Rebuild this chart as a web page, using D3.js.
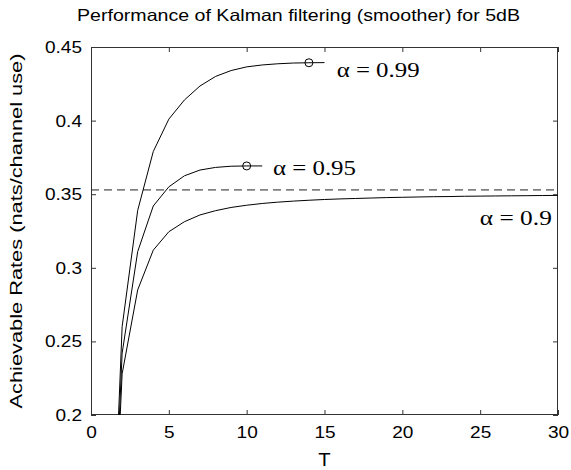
<!DOCTYPE html>
<html><head><meta charset="utf-8">
<script src="https://cdn.jsdelivr.net/npm/d3@7"></script>
<style>body{margin:0;background:#fff}</style>
</head><body>
<svg id="c" width="571" height="470"></svg>
<script>
const T99 = [1,2,3,4,5,6,7,8,9,10,11,12,13,14,15];
const R99 = [0,0.26,0.339,0.379,0.401,0.414,0.4235,0.430,0.434,0.4365,0.4378,0.4386,0.4391,0.4393,0.4394];
const T95 = [1,2,3,4,5,6,7,8,9,10,11];
const R95 = [0,0.242,0.311,0.342,0.355,0.3625,0.3664,0.3682,0.369,0.3692,0.3692];
const T90 = [1,2,3,4,5,6,7,8,9,10,11,12,13,14,15,16,17,18,19,20,21,22,23,24,25,26,27,28,29,30];
const R90 = [0,0.228,0.285,0.312,0.3245,0.3313,0.3359,0.3388,0.341,0.3425,0.3437,0.3446,0.3453,0.3459,0.3464,0.3468,0.3471,0.3474,0.3477,0.3479,0.3481,0.3483,0.3484,0.3486,0.3487,0.3488,0.3489,0.349,0.3491,0.3492];
const optT = [14, 10];
const optR = [0.4393, 0.3692];
const bound = 0.3529;
const xTicks = [0,5,10,15,20,25,30];
const yTicks = [0.2,0.25,0.3,0.35,0.4,0.45];
const labels = ["α = 0.99","α = 0.95","α = 0.9"];
const labelT = [15.78, 11.69, 24.98];
const labelR = [0.4294, 0.363, 0.3291];

const PL=91, PR=558, PT=47, PB=415;
const x = d3.scaleLinear().domain([0,30]).range([PL,PR]);
const y = d3.scaleLinear().domain([0.2,0.45]).range([PB,PT]);
const svg = d3.select("#c");
const WIDEN = 1.12;

svg.append("defs").append("clipPath").attr("id","clip")
  .append("rect").attr("x",PL).attr("y",PT).attr("width",PR-PL).attr("height",PB-PT);

const axFont = "Liberation Sans, Arial, sans-serif";
const ax = svg.append("g");
ax.append("rect").attr("x",PL+0.5).attr("y",PT+0.5).attr("width",PR-PL-1).attr("height",PB-PT-1)
  .attr("fill","none").attr("stroke","#333").attr("stroke-width",1);

const axB = d3.axisBottom(x).tickValues(xTicks).tickSizeInner(-5).tickSizeOuter(0).tickPadding(11).tickFormat(d3.format("d"));
const axL = d3.axisLeft(y).tickValues(yTicks).tickSizeInner(-5).tickSizeOuter(0).tickPadding(9).tickFormat(d=>String(+d.toFixed(2)));
const axT = d3.axisTop(x).tickValues(xTicks).tickSizeInner(-5).tickSizeOuter(0).tickFormat("");
const axR = d3.axisRight(y).tickValues(yTicks).tickSizeInner(-5).tickSizeOuter(0).tickFormat("");

function widen(sel, f){
  sel.each(function(){
    const len = this.getComputedTextLength();
    if (len > 0) d3.select(this).attr("textLength", len*f).attr("lengthAdjust","spacingAndGlyphs");
  });
}
function style(g){
  g.select(".domain").remove();
  g.selectAll(".tick line").attr("stroke","#333");
  const t = g.selectAll(".tick text").attr("fill","#000").style("font-family",axFont).style("font-size","17px");
  widen(t, WIDEN);
}
ax.append("g").attr("transform",`translate(0,${PB})`).call(axB).call(style);
ax.append("g").attr("transform",`translate(${PL},0)`).call(axL).call(style);
ax.append("g").attr("transform",`translate(0,${PT})`).call(axT).call(style);
ax.append("g").attr("transform",`translate(${PR},0)`).call(axR).call(style);

const plot = svg.append("g").attr("clip-path","url(#clip)");
plot.append("line").attr("x1",PL).attr("x2",PR-3).attr("y1",y(bound)).attr("y2",y(bound))
  .attr("stroke","#222").attr("stroke-width",1).attr("stroke-dasharray","8,5");

const line = d3.line().x(d=>x(d[0])).y(d=>y(d[1]));
[[T99,R99],[T95,R95],[T90,R90]].forEach(([ts,rs])=>{
  plot.append("path").datum(ts.map((t,i)=>[t,rs[i]])).attr("d",line)
    .attr("fill","none").attr("stroke","#000").attr("stroke-width",1);
});
optT.forEach((t,i)=>{
  plot.append("circle").attr("cx",x(t)).attr("cy",y(optR[i])).attr("r",4)
    .attr("fill","none").attr("stroke","#000").attr("stroke-width",1);
});

const labelW = [83, 83, 72];
labels.forEach((s,i)=>{
  svg.append("text").attr("x",x(labelT[i])).attr("y",y(labelR[i]))
    .style("font-family","Liberation Serif, Times New Roman, serif").style("font-size","20px")
    .attr("textLength", labelW[i]).attr("lengthAdjust","spacingAndGlyphs")
    .attr("fill","#000").text(s);
});

svg.append("text").attr("x",298.5).attr("y",21).attr("text-anchor","middle")
  .style("font-family",axFont).style("font-size","16.5px").attr("fill","#000")
  .attr("textLength",443).attr("lengthAdjust","spacingAndGlyphs")
  .text("Performance of Kalman filtering (smoother) for 5dB");
const tl = svg.append("text").attr("x",x(15)).attr("y",466).attr("text-anchor","middle")
  .style("font-family",axFont).style("font-size","18px").attr("fill","#000").text("T");
widen(tl, WIDEN);
svg.append("text").attr("transform",`translate(22,${(PT+PB)/2}) rotate(-90)`).attr("text-anchor","middle")
  .style("font-family",axFont).style("font-size","17px").attr("fill","#000")
  .attr("textLength",355).attr("lengthAdjust","spacingAndGlyphs")
  .text("Achievable Rates (nats/channel use)");
</script>
</body></html>
